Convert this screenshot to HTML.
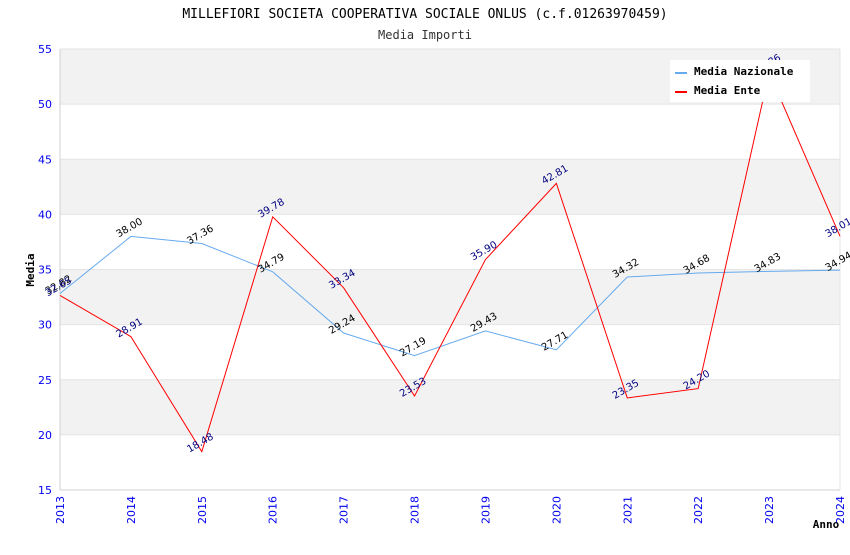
<!DOCTYPE html>
<html><head><meta charset="utf-8"><style>
body{margin:0;background:#fff;width:850px;height:550px;overflow:hidden}
svg{font-family:"DejaVu Sans Mono","Liberation Mono",monospace}
.sans{font-family:"DejaVu Sans","Liberation Sans",sans-serif}
</style></head><body>
<svg id="c" width="850" height="550">
<text x="425" y="18" text-anchor="middle" font-size="13">MILLEFIORI SOCIETA COOPERATIVA SOCIALE ONLUS (c.f.01263970459)</text>
<text x="425" y="39" text-anchor="middle" font-size="12" fill="#333">Media Importi</text>
<g id="bands"></g><g id="axes"></g><g id="lines"></g><g id="labels"></g>
<text x="34" y="270" font-size="11" font-weight="bold" text-anchor="middle" transform="rotate(-90 34 270)">Media</text>
<text x="826" y="528" font-size="11" font-weight="bold" text-anchor="middle">Anno</text>
<g>
<rect x="670" y="60" width="140" height="42" fill="#fff"/>
<line x1="675" y1="73" x2="687" y2="73" stroke="#66aaee" stroke-width="2"/>
<text x="694" y="75" font-size="11" font-weight="bold">Media Nazionale</text>
<line x1="675" y1="92" x2="687" y2="92" stroke="red" stroke-width="2"/>
<text x="694" y="94" font-size="11" font-weight="bold">Media Ente</text>
</g>
</svg>
<script>
const years=[2013,2014,2015,2016,2017,2018,2019,2020,2021,2022,2023,2024];
const nazionale=[32.82,38.00,37.36,34.79,29.24,27.19,29.43,27.71,34.32,34.68,34.83,34.94];
const ente=[32.65,28.91,18.48,39.78,33.34,23.53,35.90,42.81,23.35,24.20,52.86,38.01];
const yTicks=[15,20,25,30,35,40,45,50,55];
const NS="http://www.w3.org/2000/svg";
const x0=60,x1=840,yTop=49,yBot=490,ymin=15,ymax=55;
const X=i=>x0+i*(x1-x0)/(years.length-1);
const Y=v=>yBot-(v-ymin)*(yBot-yTop)/(ymax-ymin);
function mk(tag,attrs,parent,txt){const e=document.createElementNS(NS,tag);for(const k in attrs)e.setAttribute(k,attrs[k]);if(txt!==undefined)e.textContent=txt;document.getElementById(parent).appendChild(e);return e;}
for(let i=0;i<yTicks.length-1;i++){
  const r=mk('rect',{x:x0,y:Y(yTicks[i+1]),width:x1-x0,height:Y(yTicks[i])-Y(yTicks[i+1]),fill:(i%2===1)?'#f2f2f2':'#fff'},'bands');
  
  
}
yTicks.forEach(t=>{
  const l=mk('line',{x1:x0,x2:x1,y1:Y(t),y2:Y(t),stroke:'#e4e4e4'},'axes');
  
  
  const tx=mk('text',{x:x0-8,y:Y(t)+4,'text-anchor':'end','font-size':11,fill:'#0000ee',class:'sans'},'axes',t);
  
  
});
mk('line',{x1:x0,x2:x0,y1:yTop,y2:yBot,stroke:'#d0d0d0'},'axes');
mk('line',{x1:x0,x2:x1,y1:yBot,y2:yBot,stroke:'#d0d0d0'},'axes');
mk('line',{x1:x1,x2:x1,y1:yTop,y2:yBot,stroke:'#e4e4e4'},'axes');
years.forEach((yr,i)=>{
  const tx=mk('text',{x:X(i)+4,y:yBot+6,'text-anchor':'end','font-size':11,fill:'#0000ee',class:'sans',transform:`rotate(-90 ${X(i)+4} ${yBot+6})`},'axes',yr);
  
  
});
function series(vals,color,lblColor,name){
  const p=mk('polyline',{points:vals.map((v,i)=>X(i)+','+Y(v)).join(' '),fill:'none',stroke:color,'stroke-width':1},'lines');
  
  
  vals.forEach((v,i)=>{
    const x=X(i),y=Y(v)-6;
    const t=mk('text',{x:x,y:y,'text-anchor':'middle','font-size':10,fill:lblColor,class:'sans',transform:`rotate(-30 ${x} ${y})`},'labels',v.toFixed(2));
    
    
  });
}
series(nazionale,'#66aaee','#000','nazionale');
series(ente,'red','#000080','ente');
</script>
</body></html>
